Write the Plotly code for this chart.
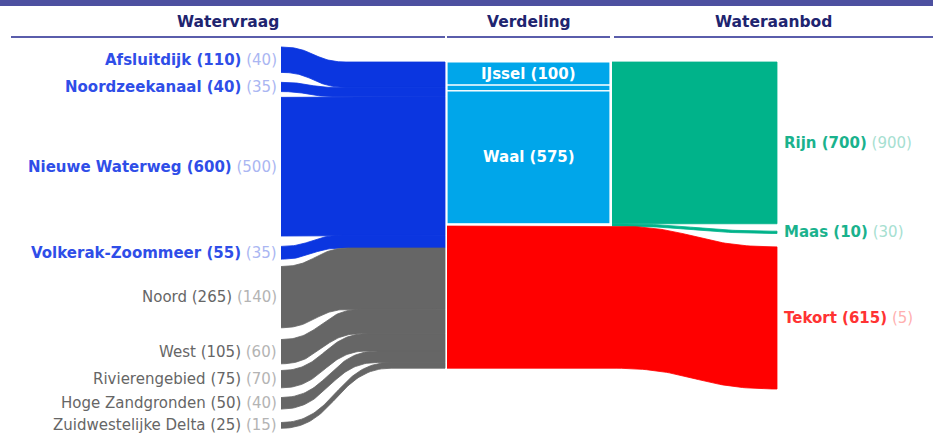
"""Watervraag, verdeling en wateraanbod als zelfgebouwd sankey-diagram"""

import numpy as np
import plotly.graph_objects as go

# Watervraag (links), in m3/s; tussen haakjes de lichte waarde
demand_names = ["Afsluitdijk", "Noordzeekanaal", "Nieuwe Waterweg", "Volkerak-Zoommeer",
                "Noord", "West", "Rivierengebied", "Hoge Zandgronden", "Zuidwestelijke Delta"]
demand_values = [110, 40, 600, 55, 265, 105, 75, 50, 25]
demand_previous = [40, 35, 500, 35, 140, 60, 70, 40, 15]
demand_group = ["hoofd", "hoofd", "hoofd", "hoofd", "regio", "regio", "regio", "regio", "regio"]

# Verdeling van de Rijn (midden)
split_names = ["IJssel", "Nederrijn-Lek", "Waal"]
split_values = [100, 25, 575]

# Wateraanbod (rechts)
supply_names = ["Rijn", "Maas", "Tekort"]
supply_values = [700, 10, 615]
supply_previous = [900, 30, 5]

# layout
W, H = 933, 434
PX = 0.2311          # pixels per m3/s
TOP_PX = 62          # bovenkant van de stapel
X_LEFT, X_BLOCK = 281, 445
X_MID0, X_MID1 = 447, 610
X_RIGHT0, X_RIGHT1 = 612, 777
LEFT_TOP = -65
LEFT_GAPS = [43, 25, 45, 32, 51, 29, 42, 58]
RIGHT_GAPS = [32, 58]
FONT = "DejaVu Sans, sans-serif"

group_fill = {"hoofd": "#0b36e0", "regio": "#666666"}
group_text = {"hoofd": ("#2f4ee8", "#aab6f2"), "regio": ("#666666", "#b4b4b4")}
group_bold = {"hoofd": True, "regio": False}
split_fill = "#00a6ea"
supply_fill = {"Rijn": "#00b38a", "Maas": "#00b38a", "Tekort": "#ff0000"}
supply_text = {"Rijn": ("#1ab28d", "#a6e0d1"), "Maas": ("#1ab28d", "#a6e0d1"),
               "Tekort": ("#ff3333", "#ffb0b0")}

T = np.linspace(0, 1, 50)


def link(x0, x1, y0, y1):
    """Bezier met horizontale raaklijnen, zoals een d3-link"""
    xm = (x0 + x1) / 2
    xs = x0 * (1 - T) ** 3 + 3 * xm * T * (1 - T) + x1 * T ** 3
    ys = y0 + (y1 - y0) * (3 * T ** 2 - 2 * T ** 3)
    return xs, ys


def band(fig, x_start, x0, x1, a0, a1, m0, m1, x_end, color, outline=None, width=0.8):
    xt, yt = link(x0, x1, a0, m0)
    xb, yb = link(x0, x1, a1, m1)
    xs = [x_start, *xt, x_end, x_end, *xb[::-1], x_start]
    ys = [a0, *yt, m0, m1, *yb[::-1], a1]
    fig.add_trace(go.Scatter(
        x=xs, y=ys, mode="lines", fill="toself", fillcolor=color,
        line=dict(color=outline or color, width=width), hoverinfo="skip",
    ))


def label(main, light, name, value, prev, bold=True):
    first = f"<span style='color:{main}'>{name} ({value})</span>"
    if bold:
        first = f"<b>{first}</b>"
    return f"{first} <span style='color:{light}'>({prev})</span>"


fig = go.Figure()
annotations = []

# Watervraag: linker knopen die samenkomen in een blok
left_top = LEFT_TOP
merged_top = 0
for i, name in enumerate(demand_names):
    v = demand_values[i]
    a0, a1 = left_top, left_top + v
    m0, m1 = merged_top, merged_top + v
    length = 50 + abs(m0 - a0) * PX
    band(fig, X_LEFT, X_LEFT, X_LEFT + length, a0, a1, m0, m1, X_BLOCK,
         group_fill[demand_group[i]])
    main, light = group_text[demand_group[i]]
    annotations.append(dict(
        x=X_LEFT - 2, y=(a0 + a1) / 2, xanchor="right", yanchor="middle",
        text=label(main, light, name, v, demand_previous[i], group_bold[demand_group[i]]),
        showarrow=False, font=dict(family=FONT, size=15),
    ))
    merged_top = m1
    if i < len(LEFT_GAPS):
        left_top = a1 + LEFT_GAPS[i]

# Verdeling: opsplitsing van de Rijn
y = 0
for name, v in zip(split_names, split_values):
    fig.add_trace(go.Scatter(
        x=[X_MID0, X_MID1, X_MID1, X_MID0, X_MID0], y=[y, y, y + v, y + v, y],
        mode="lines", fill="toself", fillcolor=split_fill,
        line=dict(color="white", width=1.2), hoverinfo="skip",
    ))
    if v >= 100:
        annotations.append(dict(
            x=(X_MID0 + X_MID1) / 2, y=y + v / 2, text=f"<b>{name} ({v})</b>",
            showarrow=False, font=dict(family=FONT, size=15, color="white"),
        ))
    y += v

# Wateraanbod: rechter knopen
stack_top = 0
right_top = 0
for k, name in enumerate(supply_names):
    v = supply_values[k]
    c0, c1 = stack_top, stack_top + v
    r0, r1 = right_top, right_top + v
    x_start = X_MID0 if name == "Tekort" else X_RIGHT0
    band(fig, x_start, X_RIGHT0, X_RIGHT1, c0, c1, r0, r1, X_RIGHT1, supply_fill[name])
    main, light = supply_text[name]
    annotations.append(dict(
        x=X_RIGHT1 + 5, y=(r0 + r1) / 2, xanchor="left", yanchor="middle",
        text=label(main, light, name, v, supply_previous[k]),
        showarrow=False, font=dict(family=FONT, size=15),
    ))
    stack_top = c1
    if k < len(RIGHT_GAPS):
        right_top = r1 + RIGHT_GAPS[k]

# kolomkoppen
headers = [("Watervraag", 11, 445), ("Verdeling", 447, 610), ("Wateraanbod", 614, 933)]
shapes = [dict(type="rect", xref="paper", yref="paper", x0=0, x1=1, y0=1 - 6 / H, y1=1,
               fillcolor="#4d50a0", line=dict(width=0), layer="above")]
for text, x0, x1 in headers:
    annotations.append(dict(
        x=(x0 + x1) / 2, y=1 - 22 / H, xref="x", yref="paper", yanchor="middle",
        text=f"<b>{text}</b>", showarrow=False,
        font=dict(family=FONT, size=15.5, color="#20246f"),
    ))
    shapes.append(dict(type="line", xref="x", yref="paper", x0=x0, x1=x1,
                       y0=1 - 37 / H, y1=1 - 37 / H, line=dict(color="#5a5dab", width=2)))

fig.update_layout(
    width=W, height=H,
    margin=dict(l=0, r=0, t=0, b=0),
    paper_bgcolor="white", plot_bgcolor="white",
    showlegend=False, hovermode=False,
    xaxis=dict(range=[0, W], visible=False, fixedrange=True),
    yaxis=dict(range=[(H - TOP_PX) / PX, -TOP_PX / PX], visible=False, fixedrange=True),
    annotations=annotations,
    shapes=shapes,
)

fig.write_html("out.html", config={"displayModeBar": False},
               post_script="document.body.style.margin='0';")
